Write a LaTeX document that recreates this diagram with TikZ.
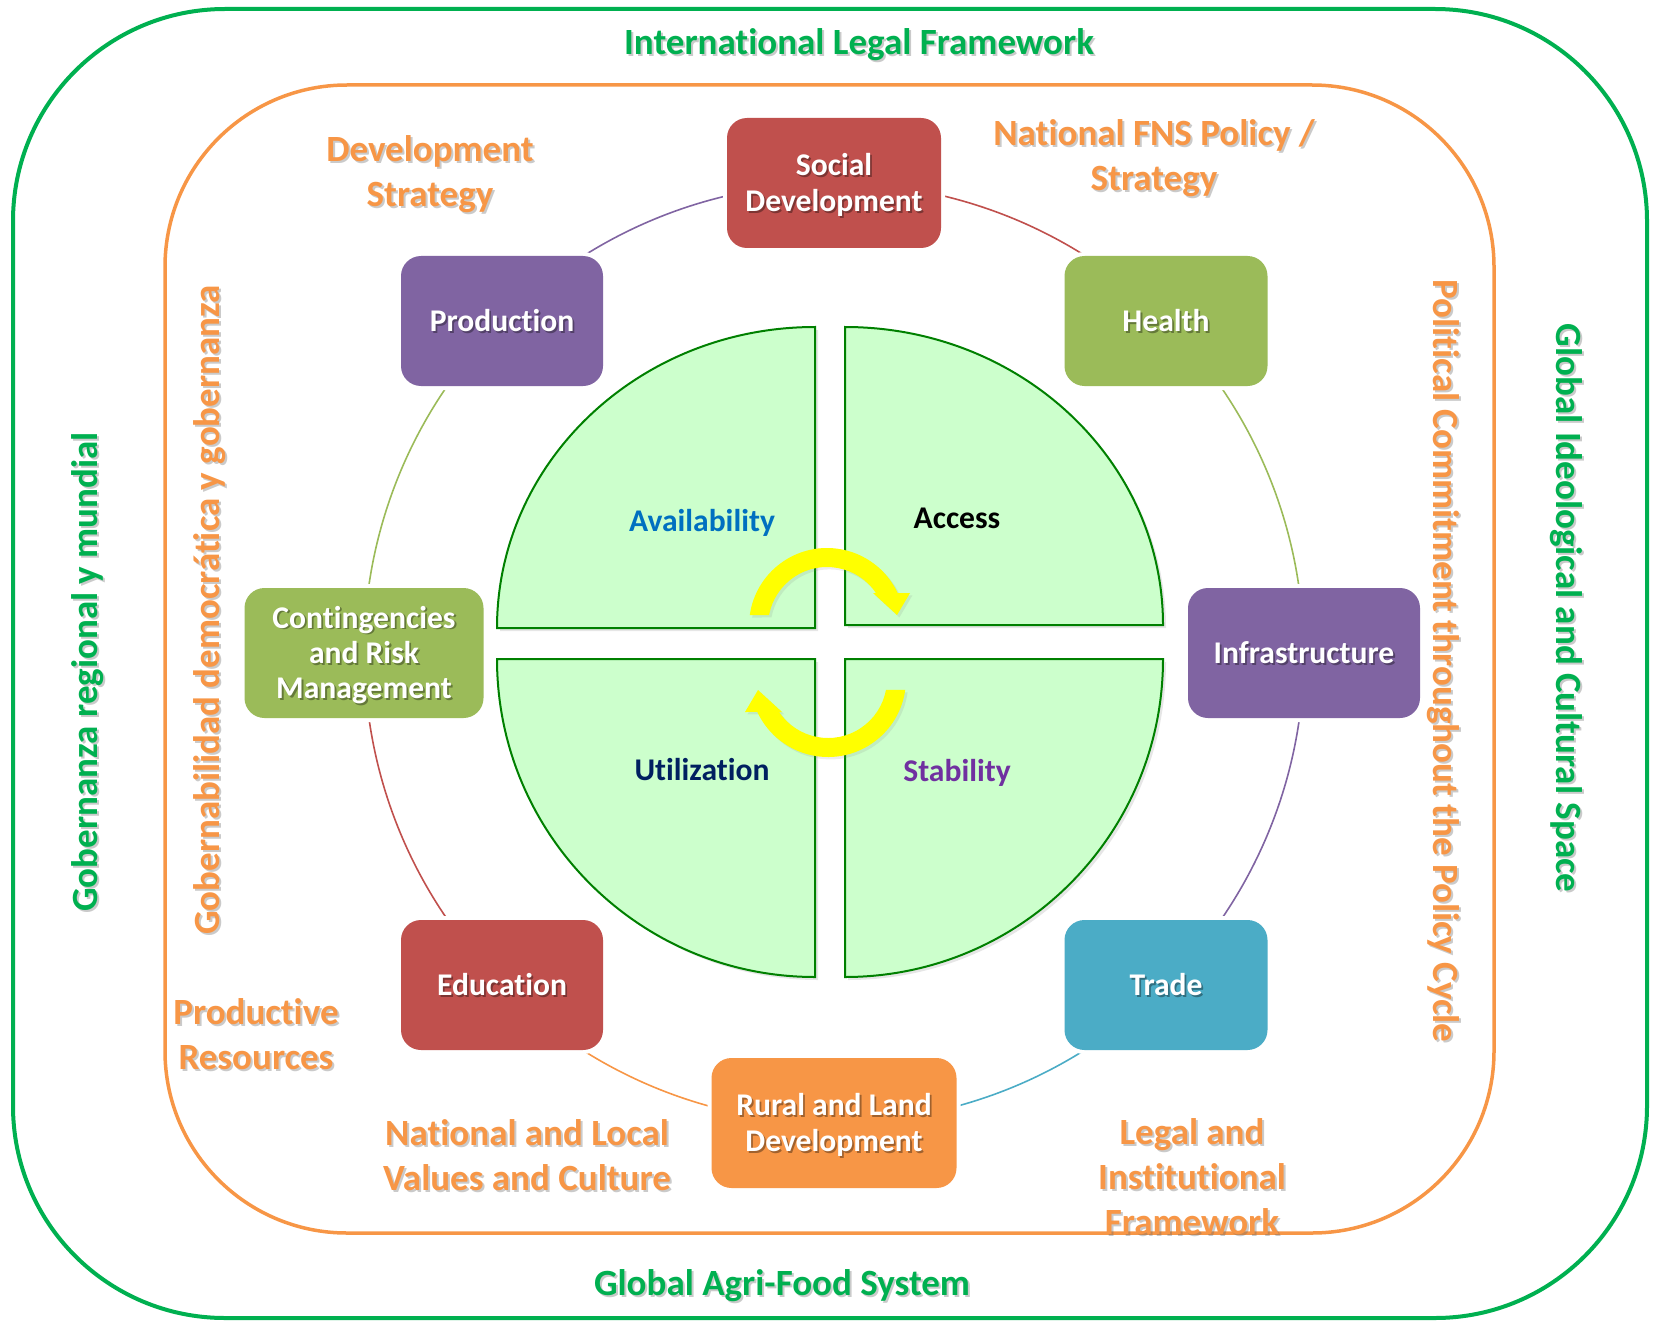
\documentclass[tikz,border=0pt]{standalone}
\usepackage{fontspec}
\setmainfont{Carlito}[Ligatures=CommonOff]
\usetikzlibrary{shadows}

\definecolor{cRed}{HTML}{C0504D}
\definecolor{cPurple}{HTML}{8064A2}
\definecolor{cGreen}{HTML}{9BBB59}
\definecolor{cTeal}{HTML}{4BACC6}
\definecolor{cOrange}{HTML}{F79646}
\definecolor{frameGreen}{HTML}{00B050}
\definecolor{quadFill}{HTML}{CCFFCC}
\definecolor{quadLine}{HTML}{008000}
\definecolor{availBlue}{HTML}{0070C0}
\definecolor{utilNavy}{HTML}{002060}
\definecolor{stabPurple}{HTML}{7030A0}
\definecolor{cycleYellow}{HTML}{FFFF00}

\pgfdeclarelayer{background}
\pgfsetlayers{background,main}

\tikzset{
  box/.style={rounded corners=10pt, minimum height=65pt, inner sep=0pt,
    preaction={draw=white, line width=4pt}},
  boxtext/.style={text=white, align=center, inner sep=0pt,
    font=\fontsize{15.8}{17.7}\selectfont\bfseries},
  boxshade/.style={boxtext, text=black, opacity=0.35},
  outerlbl/.style={font=\fontsize{18.5}{22.5}\selectfont\bfseries, align=center, inner sep=0pt},
  lblshade/.style={text=black!60, opacity=0.35},
  ring/.style={line width=0.8pt},
  quad/.style={fill=quadFill, draw=quadLine, line width=1pt,
    drop shadow={shadow xshift=1.5pt, shadow yshift=-1.5pt, opacity=0.2}},
  qlabel/.style={font=\fontsize{15.8}{18}\selectfont\bfseries, inner sep=0pt},
  cyclearrow/.style={fill=cycleYellow,
    drop shadow={shadow xshift=1.2pt, shadow yshift=-1.2pt, opacity=0.15}},
}

% coloured box with white, softly shadowed caption (#6 nudges the caption)
\newcommand\boxnode[6][0]{%
  \node[box, fill=#4, minimum width=#5] (#2) at (#3) {};
  \node[boxshade] at ([xshift=0.9pt, yshift=-0.9pt-#1*0.5pt]#2.center) {#6};
  \node[boxtext] (#2-t) at ([yshift=-#1*0.5pt]#2.center) {#6};
}
% frame caption with a light drop shadow
\newcommand\framelabel[4]{%
  \node[outerlbl, #2, lblshade] at ([xshift=1pt, yshift=-1pt]#3) {#4};
  \node[outerlbl, #2] (#1) at (#3) {#4};
}
% one curved cycle arrow, drawn around the origin of the current scope
\newcommand\cyclearrowpath{%
  (188:78) arc[start angle=188, end angle=335, radius=78]
  -- (83,-33) -- (70,-11) -- (46,-33)
  -- (326:59) arc[start angle=326, end angle=190.7, radius=59] -- cycle}

\begin{document}
\begin{tikzpicture}[x=0.5pt, y=-0.5pt]
\useasboundingbox (0,0) rectangle (1653,1321);

% nested frames
\draw[frameGreen, line width=2pt, rounded corners=106pt] (13,9) rectangle (1647,1318);
\draw[cOrange, line width=1.75pt, rounded corners=91pt] (165,85) rectangle (1494,1233);

% the four pillars
\draw[quad] (815,628) -- (497,628) arc[start angle=180, end angle=270, x radius=318, y radius=301] -- cycle;
\draw[quad] (845,625) -- (845,327) arc[start angle=270, end angle=360, x radius=318, y radius=298] -- cycle;
\draw[quad] (815,659) -- (815,977) arc[start angle=90, end angle=180, radius=318] -- cycle;
\draw[quad] (845,659) -- (1163,659) arc[start angle=0, end angle=90, radius=318] -- cycle;

\node[qlabel, text=availBlue] (avail) at (702,523) {Availability};
\node[qlabel, text=black] (access) at (957,518) {Access};
\node[qlabel, text=utilNavy] (util) at (702,770) {Utilization};
\node[qlabel, text=stabPurple] (stab) at (957,773) {Stability};

% cycle arrows
\begin{scope}[shift={(827,626)}]
  \path[cyclearrow] \cyclearrowpath;
\end{scope}
\begin{scope}[shift={(828,679)}, rotate=180]
  \path[cyclearrow] \cyclearrowpath;
\end{scope}

% sector boxes around the ring
\boxnode[2]{soc}{834,183}{cRed}{107pt}{Social\\Development}
\boxnode{health}{1166,321}{cGreen}{101.5pt}{Health}
\boxnode{infra}{1304,653}{cPurple}{116pt}{Infrastructure}
\boxnode{trade}{1166,985}{cTeal}{101.5pt}{Trade}
\boxnode[2]{rural}{834,1123}{cOrange}{122.5pt}{Rural and Land\\Development}
\boxnode{edu}{502,985}{cRed}{101pt}{Education}
\boxnode[2]{cont}{364,653}{cGreen}{119.5pt}{Contingencies\\and Risk\\Management}
\boxnode{prod}{502,321}{cPurple}{101pt}{Production}

% ring segments between neighbouring boxes
\begin{pgfonlayer}{background}
  \draw[ring, cRed]    (soc.center)    arc[start angle=-90, end angle=-45, radius=470];
  \draw[ring, cGreen]  (health.center) arc[start angle=-45, end angle=0,   radius=470];
  \draw[ring, cPurple] (infra.center)  arc[start angle=0,   end angle=45,  radius=470];
  \draw[ring, cTeal]   (trade.center)  arc[start angle=45,  end angle=90,  radius=470];
  \draw[ring, cOrange] (rural.center)  arc[start angle=90,  end angle=135, radius=470];
  \draw[ring, cRed]    (edu.center)    arc[start angle=135, end angle=180, radius=470];
  \draw[ring, cGreen]  (cont.center)   arc[start angle=180, end angle=225, radius=470];
  \draw[ring, cPurple] (prod.center)   arc[start angle=225, end angle=270, radius=470];
\end{pgfonlayer}

% captions of the outer frame
\framelabel{intl}{text=frameGreen}{859,45}{International Legal Framework}
\framelabel{agri}{text=frameGreen}{782,1286}{Global Agri-Food System}
\framelabel{gobreg}{text=frameGreen, rotate=90}{88,672}{Gobernanza regional y mundial}
\framelabel{ideo}{text=frameGreen, rotate=-90}{1566,608}{Global Ideological and Cultural Space}

% captions of the inner frame
\framelabel{devstr}{text=cOrange}{430,174}{Development\\Strategy}
\framelabel{fns}{text=cOrange}{1154,158}{National FNS Policy /\\Strategy}
\framelabel{gobdem}{text=cOrange, rotate=90}{210,610}{Gobernabilidad democrática y gobernanza}
\framelabel{polcom}{text=cOrange, rotate=-90}{1443,661}{Political Commitment throughout the Policy Cycle}
\framelabel{prodres}{text=cOrange}{256,1034}{Productive\\Resources}
\framelabel{values}{text=cOrange}{527,1155}{National and Local\\Values and Culture}
\framelabel{legal}{text=cOrange}{1192,1177}{Legal and\\Institutional\\Framework}

\end{tikzpicture}
\end{document}
